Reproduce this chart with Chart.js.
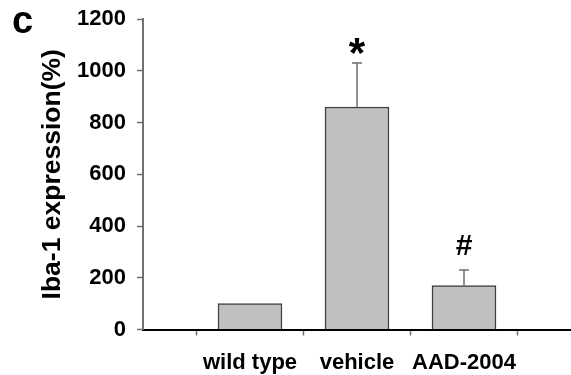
<!DOCTYPE html>
<html>
<head>
<meta charset="utf-8">
<script src="https://cdn.jsdelivr.net/npm/chart.js@4/dist/chart.umd.min.js"></script>
<style>
  html, body { margin: 0; padding: 0; background: #fff; }
  #wrap { width: 571px; height: 375px; }
</style>
</head>
<body>
<div id="wrap"><canvas id="ibaChart" width="571" height="375"></canvas></div>
<script>
// Iba-1 expression per group
const groups = ["wild type", "vehicle", "AAD-2004"];
const means = [100, 860, 170];
const errors = [0, 170, 60];
const marks = ["", "*", "#"];
const yTicks = [0, 200, 400, 600, 800, 1000, 1200];

const FONT = "'Liberation Sans', Arial, sans-serif";

// one-sided error bars plus the * / # markers above them
const errorBars = {
  id: "errorBars",
  afterDatasetsDraw(chart) {
    const { ctx, scales: { x, y } } = chart;
    ctx.save();
    means.forEach((m, i) => {
      const px = x.getPixelForValue(i + 1);
      const top = y.getPixelForValue(m + errors[i]);
      if (errors[i] > 0) {
        ctx.strokeStyle = "#6e6e6e";
        ctx.lineWidth = 1.5;
        ctx.beginPath();
        ctx.moveTo(px, y.getPixelForValue(m));
        ctx.lineTo(px, top);
        ctx.moveTo(px - 5, top);
        ctx.lineTo(px + 5, top);
        ctx.stroke();
      }
      if (marks[i]) {
        ctx.fillStyle = "#000";
        ctx.textAlign = "center";
        ctx.textBaseline = "middle";
        if (marks[i] === "*") {
          ctx.font = "bold 42px " + FONT;
          ctx.fillText(marks[i], px, top - 8);
        } else {
          ctx.font = "bold 30px " + FONT;
          ctx.fillText(marks[i], px, top - 23);
        }
      }
    });
    // panel letter
    ctx.font = "bold 38px " + FONT;
    ctx.textAlign = "left";
    ctx.textBaseline = "alphabetic";
    ctx.fillStyle = "#000";
    ctx.fillText("c", 12, 33);
    ctx.restore();
  }
};

new Chart(document.getElementById("ibaChart"), {
  type: "bar",
  data: {
    datasets: [{
      data: means.map((m, i) => ({ x: i + 1, y: m })),
      backgroundColor: "#c0c0c0",
      borderColor: "#404040",
      borderWidth: 1.5,
      barThickness: 64
    }]
  },
  options: {
    responsive: false,
    animation: false,
    layout: { padding: { top: 19, right: 0, left: 37, bottom: 0 } },
    plugins: {
      legend: { display: false },
      tooltip: { enabled: false }
    },
    scales: {
      x: {
        type: "linear",
        min: 0,
        max: 4,
        offset: false,
        afterBuildTicks: axis => {
          axis.ticks = groups.map((g, i) => ({ value: i + 1 }));
        },
        afterFit: axis => {
          axis.height = 45.5;
          axis.paddingLeft = 0;
          axis.paddingRight = 0;
        },
        ticks: {
          color: "#000",
          font: { family: FONT, size: 22, weight: "bold" },
          padding: 14,
          maxRotation: 0,
          autoSkip: false,
          callback: v => groups[v - 1] || ""
        },
        grid: {
          drawOnChartArea: false,
          color: "#707070",
          tickLength: 6,
          tickWidth: 1.5
        },
        border: { color: "#000", width: 2 }
      },
      y: {
        min: 0,
        max: 1200,
        afterBuildTicks: axis => {
          axis.ticks = yTicks.map(v => ({ value: v }));
        },
        afterFit: axis => {
          axis.width = 106;
          axis.paddingTop = 0;
          axis.paddingBottom = 0;
        },
        ticks: {
          color: "#000",
          font: { family: FONT, size: 22, weight: "bold" },
          padding: 11,
          callback: v => String(v)
        },
        grid: {
          drawOnChartArea: false,
          color: "#707070",
          tickLength: 6,
          tickWidth: 1.5
        },
        border: { color: "#707070", width: 2 },
        title: {
          display: true,
          text: "Iba-1 expression(%)",
          color: "#000",
          font: { family: FONT, size: 26.5, weight: "bold" },
          padding: 0
        }
      }
    }
  },
  plugins: [errorBars]
});
</script>
</body>
</html>
